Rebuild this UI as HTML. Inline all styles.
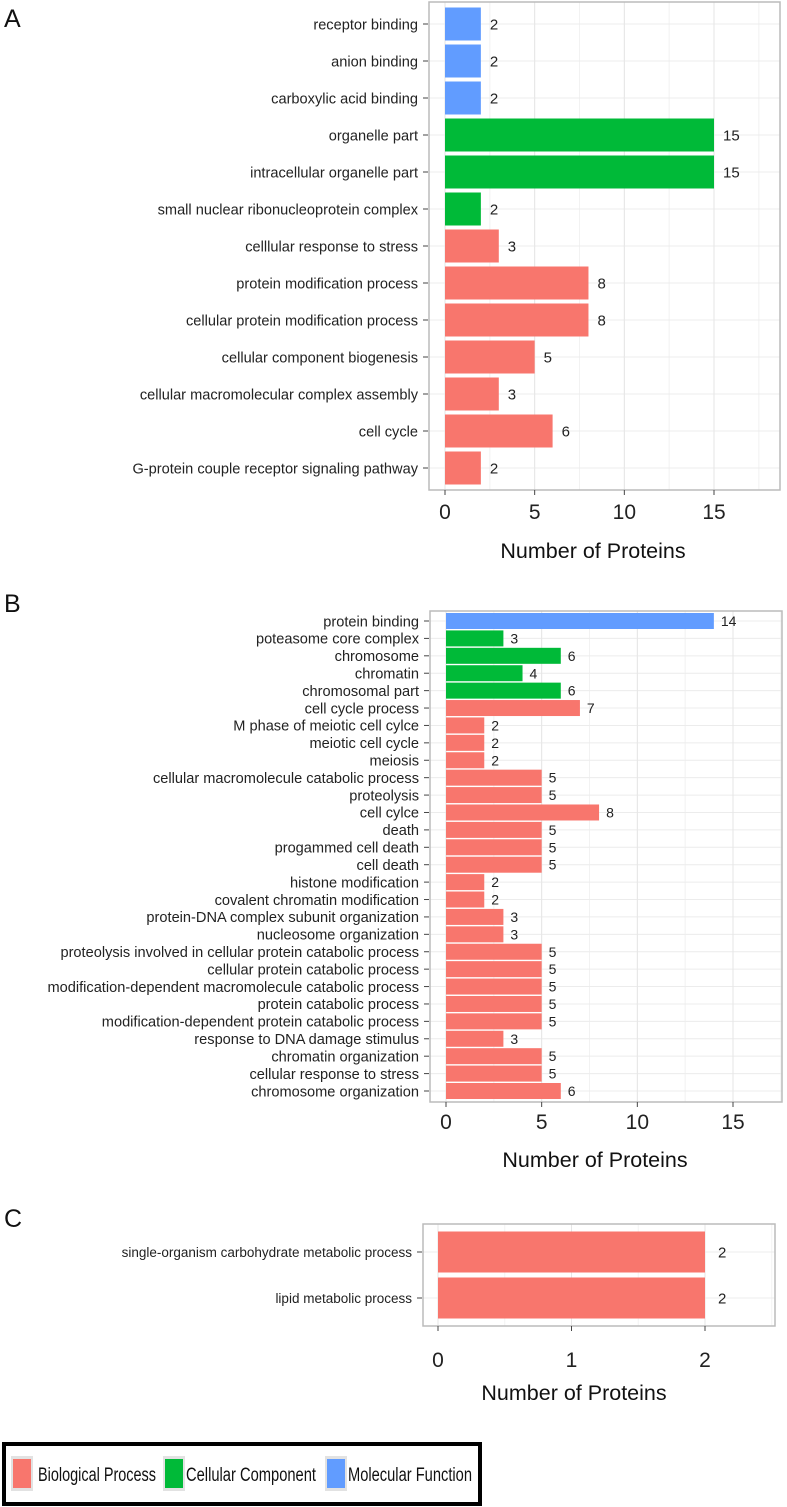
<!DOCTYPE html>
<html><head><meta charset="utf-8"><style>
html,body{margin:0;padding:0;background:#fff}
svg{display:block;font-family:"Liberation Sans",Arial,sans-serif}
</style></head><body>
<svg id="fig" width="787" height="1507" viewBox="0 0 787 1507"></svg>
<script>
const COLORS = {BP:"#F8766D", CC:"#00BA38", MF:"#619CFF"};
// Panel A data
const catsA = ["receptor binding","anion binding","carboxylic acid binding","organelle part","intracellular organelle part","small nuclear ribonucleoprotein complex","celllular response to stress","protein modification process","cellular protein modification process","cellular component biogenesis","cellular macromolecular complex assembly","cell cycle","G-protein couple receptor signaling pathway"];
const valsA = [2,2,2,15,15,2,3,8,8,5,3,6,2];
const typesA = ["MF","MF","MF","CC","CC","CC","BP","BP","BP","BP","BP","BP","BP"];
const ticksA = [0,5,10,15];
// Panel B data
const catsB = ["protein binding","poteasome core complex","chromosome","chromatin","chromosomal part","cell cycle process","M phase of meiotic cell cylce","meiotic cell cycle","meiosis","cellular macromolecule catabolic process","proteolysis","cell cylce","death","progammed cell death","cell death","histone modification","covalent chromatin modification","protein-DNA complex subunit organization","nucleosome organization","proteolysis involved in cellular protein catabolic process","cellular protein catabolic process","modification-dependent macromolecule catabolic process","protein catabolic process","modification-dependent protein catabolic process","response to DNA damage stimulus","chromatin organization","cellular response to stress","chromosome organization"];
const valsB = [14,3,6,4,6,7,2,2,2,5,5,8,5,5,5,2,2,3,3,5,5,5,5,5,3,5,5,6];
const typesB = ["MF","CC","CC","CC","CC","BP","BP","BP","BP","BP","BP","BP","BP","BP","BP","BP","BP","BP","BP","BP","BP","BP","BP","BP","BP","BP","BP","BP"];
const ticksB = [0,5,10,15];
// Panel C data
const catsC = ["single-organism carbohydrate metabolic process","lipid metabolic process"];
const valsC = [2,2];
const typesC = ["BP","BP"];
const ticksC = [0,1,2];

const svg = document.getElementById('fig');
const NS = "http://www.w3.org/2000/svg";
function mk(tag, attrs, parent){const e=document.createElementNS(NS,tag);for(const k in attrs)e.setAttribute(k,attrs[k]);(parent||svg).appendChild(e);return e;}

function panel(o){
  const g = mk('g',{});
  
  
  const xs = v => o.x0 + v*(o.x1-o.x0)/o.v1;
  const n = o.cats.length;
  const pitch = (o.lastY - o.firstY)/(n-1);
  const ys = i => o.firstY + i*pitch;
  mk('rect',{x:o.L,y:o.T,width:o.R-o.L,height:o.B-o.T,fill:"#fff"},g);
  for(let v=0; xs(v)<=o.R; v+=o.minor){
    mk('line',{x1:xs(v),x2:xs(v),y1:o.T,y2:o.B,stroke:"#f2f2f2","stroke-width":1},g);
  }
  for(let i=0;i<n;i++){
    mk('line',{x1:o.L,x2:o.R,y1:ys(i),y2:ys(i),stroke:"#ececec","stroke-width":1},g);
  }
  o.ticks.forEach(t=>{
    const l=mk('line',{x1:xs(t),x2:xs(t),y1:o.T,y2:o.B,stroke:"#e6e6e6","stroke-width":1},g);
    
    
  });
  for(let i=0;i<n;i++){
    const r=mk('rect',{x:xs(0),y:ys(i)-o.bh/2,width:xs(o.vals[i])-xs(0),height:o.bh,fill:COLORS[o.types[i]]},g);
    
    
    const vt=mk('text',{x:xs(o.vals[i])+o.vgap,y:ys(i)+o.vf*0.36,"font-size":o.vf,fill:"#222"},g);
    vt.textContent=o.vals[i];
    
    
    const ct=mk('text',{x:o.L-11,y:ys(i)+o.lf*0.36,"font-size":o.lf,fill:"#222","text-anchor":"end"},g);
    ct.textContent=o.cats[i];
    
    
    mk('line',{x1:o.L-6,x2:o.L-1,y1:ys(i),y2:ys(i),stroke:"#444","stroke-width":1},g);
  }
  mk('rect',{x:o.L,y:o.T,width:o.R-o.L,height:o.B-o.T,fill:"none",stroke:"#bbb","stroke-width":1.5},g);
  o.ticks.forEach(t=>{
    mk('line',{x1:xs(t),x2:xs(t),y1:o.B,y2:o.B+5,stroke:"#444","stroke-width":1},g);
    const tt=mk('text',{x:xs(t),y:o.tickY,"font-size":o.tf,fill:"#222","text-anchor":"middle"},g);
    tt.textContent=t;
    
    
  });
  const at=mk('text',{x:o.titleX,y:o.titleY,"font-size":21.5,fill:"#111","text-anchor":"middle"},g);
  at.textContent="Number of Proteins";
  
  
  const pl=mk('text',{x:4,y:o.letterY,"font-size":25,fill:"#111"},g);
  pl.textContent=o.letter;
  
  
}

panel({name:'panel-a',letter:'A',letterY:27,cats:catsA,vals:valsA,types:typesA,ticks:ticksA,
  L:429,R:780,T:2,B:490,x0:445,x1:714,v1:15,firstY:24,lastY:468,bh:33,lf:14.6,vf:15,tf:21,vgap:9,minor:2.5,
  tickY:519,titleX:593,titleY:558});
panel({name:'panel-b',letter:'B',letterY:612,cats:catsB,vals:valsB,types:typesB,ticks:ticksB,
  L:430,R:782,T:611,B:1102,x0:446,x1:733,v1:15,firstY:621,lastY:1091,bh:16,lf:14.6,vf:14,tf:21,vgap:7,minor:2.5,
  tickY:1129,titleX:595,titleY:1167});
panel({name:'panel-c',letter:'C',letterY:1227,cats:catsC,vals:valsC,types:typesC,ticks:ticksC,
  L:423,R:775,T:1224,B:1326,x0:438,x1:705,v1:2,firstY:1252,lastY:1298,bh:41,lf:13.5,vf:15,tf:21,vgap:13,minor:0.5,
  tickY:1367,titleX:574,titleY:1400});

const lg = mk('g',{});


mk('rect',{x:4,y:1444,width:476,height:60,fill:"#fff",stroke:"#000","stroke-width":4},lg);
const legItems=[["Biological Process","BP",11,38,118],["Cellular Component","CC",163,186,130],["Molecular Function","MF",325,348,124]];
legItems.forEach(it=>{
  mk('rect',{x:it[2],y:1456,width:22,height:35,fill:"#e2e2e2"},lg);
  const s=mk('rect',{x:it[2]+2,y:1459,width:18,height:29,fill:COLORS[it[1]]},lg);
  
  
  const t=mk('text',{x:it[3],y:1481,"font-size":19,fill:"#111",textLength:it[4],lengthAdjust:"spacingAndGlyphs"},lg);
  t.textContent=it[0];
  
  
});
</script>
</body></html>
